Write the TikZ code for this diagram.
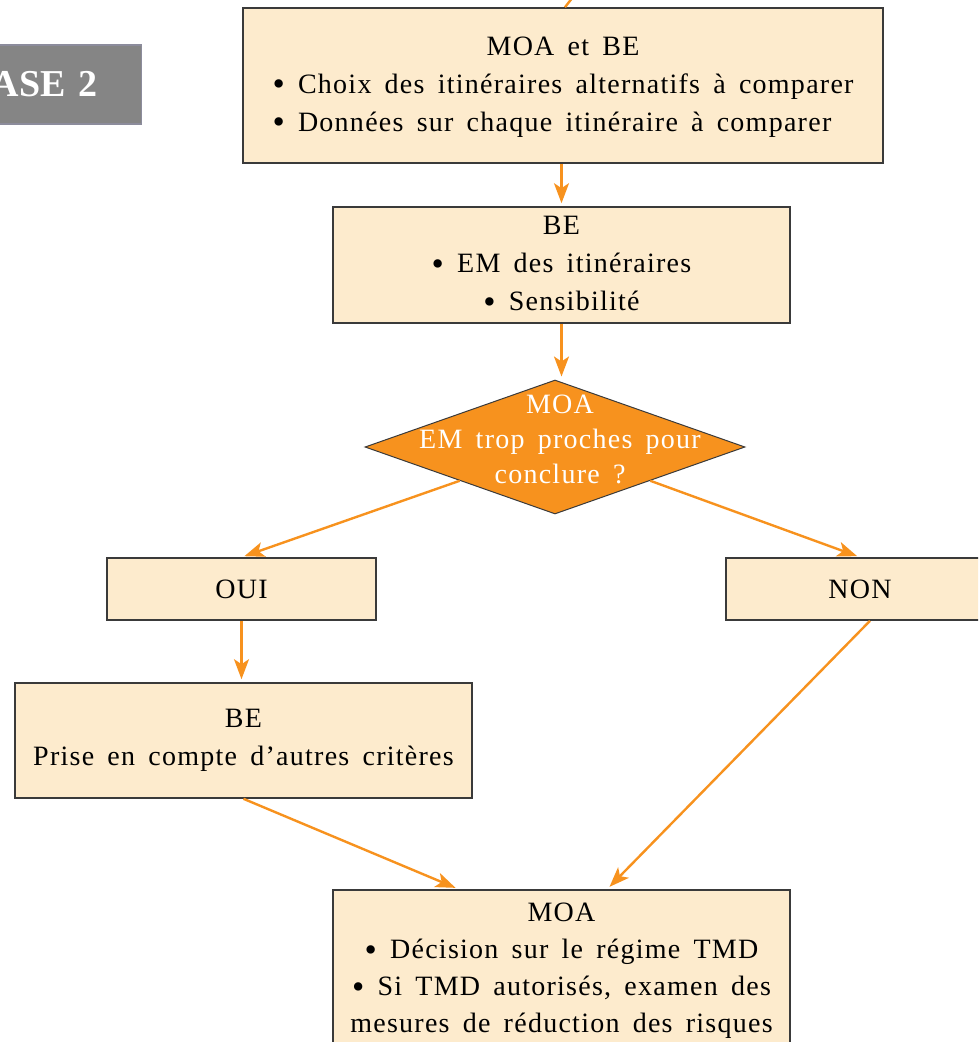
\documentclass[tikz,border=0pt]{standalone}
\usepackage{fontspec}
\setmainfont{Liberation Serif}[LetterSpace=4.5,WordSpace=1.6]
\usetikzlibrary{arrows.meta,shapes.geometric,calc}
\definecolor{boxfill}{HTML}{FDEBCD}
\definecolor{boxline}{HTML}{3A3A3A}
\definecolor{orng}{HTML}{F7921E}
\definecolor{phasegray}{HTML}{858585}
\definecolor{phaseline}{HTML}{8C8C9C}
\newcommand\bul{\raisebox{-0.1em}{\scalebox{1.25}{•}}}
\begin{document}
\begin{tikzpicture}[x=1pt,y=-1pt,
  box/.style={draw=boxline, fill=boxfill, line width=1.6pt, inner sep=0pt,
    align=center, font=\fontsize{28}{38}\selectfont},
  arr/.style={draw=orng, line width=2.4pt, -{Stealth[length=20pt,width=15pt,inset=5pt]}, shorten >=3pt},
  plain/.style={draw=orng, line width=2.4pt}]
\useasboundingbox (0,0) rectangle (978,1042);
\clip (0,0) rectangle (978,1042);

% phase label
\node[fill=phasegray, draw=phaseline, line width=1.2pt, anchor=east,
  minimum height=79pt, text width=140pt, align=right, inner xsep=44pt,
  text=white, font=\fontsize{38}{44}\selectfont\bfseries\addfontfeatures{LetterSpace=0}] (phase) at (142,84.5) {ASE 2};

% boxes
\node[box, minimum width=640pt, minimum height=155pt] (b1) at (563,85.5)
  {\begin{tabular}{@{}l@{}}\multicolumn{1}{@{}c@{}}{MOA et BE}\\
   \bul\ Choix des itinéraires alternatifs à comparer\\
   \bul\ Données sur chaque itinéraire à comparer\end{tabular}};
\node[box, minimum width=457pt, minimum height=116pt] (b2) at (561.5,265)
  {BE\\ \bul\ EM des itinéraires\\ \bul\ Sensibilité};
\node[diamond, draw=boxline, fill=orng, line width=1pt, inner sep=0pt,
  minimum width=380pt, minimum height=134pt] (dia) at (555,447) {};
\node[align=center, text=white, font=\fontsize{28}{35}\selectfont] (diatext) at (560,439)
  {MOA\\ EM trop proches pour\\ conclure ?};
\node[box, minimum width=269pt, minimum height=62pt] (oui) at (241.5,589) {OUI};
\node[box, minimum width=268pt, minimum height=62pt] (non) at (860,589) {NON};
\node[box, minimum width=457pt, minimum height=115pt] (be) at (243.5,740.5)
  {BE\\ Prise en compte d’autres critères};
\node[box, anchor=north, minimum width=457pt, inner ysep=13pt, font=\fontsize{28}{37}\selectfont] (moa) at (561.5,889)
  {MOA\\ \bul\ Décision sur le régime TMD\\ \bul\ Si TMD autorisés, examen des\\ mesures de réduction des risques\\[6pt]};

% connectors
\coordinate (topin) at (580,-12);
\draw[plain] (topin) -- ($(b1.north)+(2,0)$);
\draw[arr] (b2.north |- b1.south) -- (b2.north);
\draw[arr] (b2.south) -- (b2.south |- dia.north);
\draw[arr] (dia.south west) -- (oui.north);
\draw[arr] (dia.south east) -- (non.north);
\draw[arr] (oui.south) -- (oui.south |- be.north);
\draw[arr] (be.south) -- ($(moa.north west)!0.275!(moa.north east)$);
\draw[arr] ($(non.south)+(10,0)$) -- ($(moa.north west)!0.60!(moa.north east)$);
\end{tikzpicture}
\end{document}
